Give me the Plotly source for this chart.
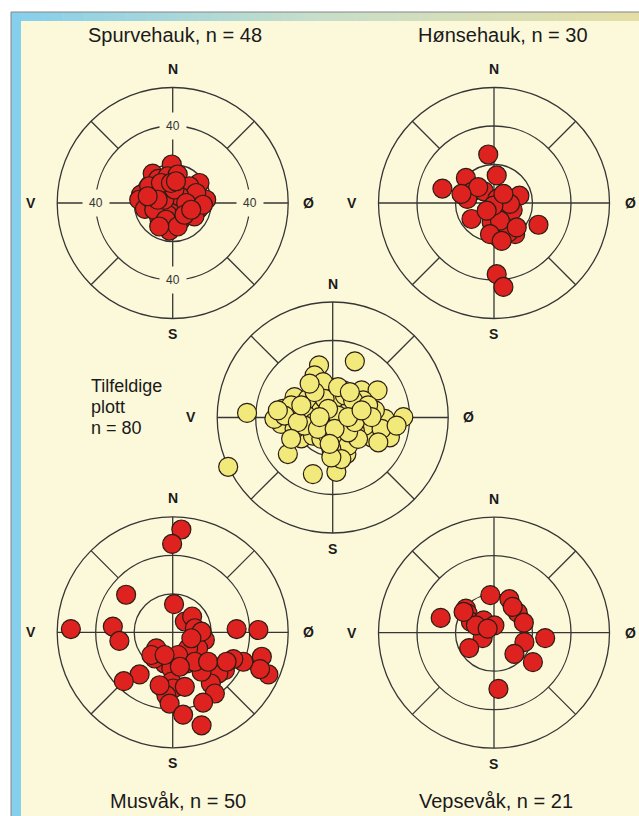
import plotly.graph_objects as go

# ---------------------------------------------------------------------------
# Nest positions relative to the centre, in metres (east, north).
# ---------------------------------------------------------------------------
spurvehauk_east = [-0.5, -10.4, -7.5, -2.6, 2.6, -16.5, -17.4, -10.4, -14.4, 13.9,
                   17.4, 13.4, 8.7, -1.2, -1.7, -7.0, 4.3, 7.8, 4.3, -5.2,
                   -0.9, 2.6, -4.3, -7.8, 10.4, 6.1, 0.9, -2.6, -12.2, 8.7,
                   12.2, -9.6, 3.5, -4.3, 0.9, -6.1, -0.9, 7.0, -7.8, -3.5,
                   2.6, 11.3, -13.0, 15.7, 1.7, -7.0, 6.1, 9.6]
spurvehauk_north = [20.0, 15.3, 12.5, 13.9, 14.8, 4.3, 1.7, 0.9, -3.1, 10.4,
                    1.7, -3.1, -6.1, -10.1, -14.3, -7.8, -8.7, 5.2, 7.8, 6.1,
                    1.7, -0.9, -2.6, 7.0, 0.9, -2.6, -5.2, -6.1, 8.7, 8.7,
                    5.2, -3.5, 3.5, 1.7, 7.0, 10.4, 10.4, 0.0, 1.7, -8.7,
                    -12.2, -7.0, 3.5, -0.9, 11.3, -12.2, -6.1, -3.5]

honsehauk_east = [-3.0, 1.4, -14.6, -26.8, -11.7, -13.9, -5.2, 1.7, 13.2, 9.7,
                  -11.7, 0.5, 23.1, 1.0, 11.0, 2.3, 7.5, 1.4, 4.9, -1.2,
                  3.1, 11.8, -2.1, 4.0, 8.3, -8.2, -16.9, -0.3, 4.9, -3.8]
honsehauk_north = [25.2, 14.3, 13.0, 7.5, 5.6, 2.1, 6.1, 2.1, 3.8, -3.7,
                   -8.3, -5.7, -11.3, -13.0, -16.2, -17.9, -15.3, -37.0, -43.6, -10.1,
                   -9.2, -12.7, -16.2, -19.7, -0.5, 8.2, 4.7, -1.4, 4.7, -4.0]

tilfeldige_east = [-54.3, -44.5, -7.1, 11.5, -19.8, -25.9, -26.8, -30.3, -9.4, 0.2,
                   -9.4, -5.0, 15.0, 23.3, 27.1, 36.7, 29.7, 20.2, 1.9, 7.1,
                   -0.7, -16.3, -10.3, -23.3, -10.3, 1.9, 4.5, 7.1, 13.2, 15.8,
                   -12.9, -18.1, -5.9, -3.3, 9.7, 16.7, 21.9, 11.5, -19.8, -13.7,
                   -9.4, -21.6, 4.5, 1.0, 6.3, 10.6, 18.4, 25.4, 33.2, 4.5,
                   8.0, -0.7, -5.9, -2.4, -14.6, -25.0, -4.2, -9.4, -12.0, 2.8,
                   13.2, 23.7, -2.4, 8.0, -18.1, -7.7, 1.0, 11.5, 4.5, -0.7,
                   20.2, -16.3, -28.5, -21.6, 8.0, 15.0, -6.8, 2.8, 8.9, -1.6]
tilfeldige_north = [-25.6, 2.4, 27.1, 29.2, 10.6, 4.5, -3.3, -0.7, 6.3, 15.0,
                    21.9, 18.4, 14.1, 14.1, -0.7, 0.2, -10.3, -10.3, -13.7, -2.4,
                    -2.4, -10.8, -9.4, -19.0, -29.4, -28.2, -18.1, -19.0, 1.0, 8.9,
                    9.7, 1.9, 3.7, -5.9, 3.7, -4.2, 3.7, -6.8, -5.9, 1.0,
                    -2.4, 6.3, 5.4, 9.7, 11.5, 8.9, 6.3, -5.9, -4.2, -11.1,
                    -14.6, -16.3, -11.1, -9.4, -4.2, 1.0, 9.7, 13.2, 17.6, 1.0,
                    -11.1, -12.9, 4.5, -7.7, -2.4, -5.9, -5.9, -2.4, -21.6, -20.7,
                    0.2, 6.3, 3.7, -11.1, 0.2, 3.7, 0.2, 15.8, 13.2, -13.7]

musvak_east = [4.5, -0.3, -24.2, -52.9, -31.1, -27.7, 0.7, 6.3, 10.1, 11.5,
               16.7, 33.2, 44.5, 46.3, 49.7, 45.4, 36.7, 31.5, 27.1, 23.7,
               19.8, 21.9, 15.0, 13.2, 8.0, 7.1, -8.5, -4.2, -0.7, -0.7,
               0.2, -3.3, 6.3, -1.6, 5.4, 15.0, 15.8, -17.2, -25.4, -9.4,
               2.8, 11.5, -6.8, -11.1, 15.0, 9.7, 3.7, 18.4, -4.2, 28.0]
musvak_north = [53.4, 45.9, 19.5, 1.7, 3.0, -4.5, 14.6, 5.6, 8.2, 2.1,
                -4.0, 1.7, 1.2, -12.7, -21.9, -19.1, -15.3, -13.9, -19.7, -21.4,
                -26.6, -31.8, -20.5, -8.3, -8.3, -16.2, -8.3, -16.2, -18.8, -25.7,
                -29.2, -32.7, -28.3, -37.0, -42.8, -48.3, -36.5, -21.9, -25.4, -13.6,
                -11.8, -15.3, -27.5, -11.8, 0.3, -3.1, -17.9, -15.3, -11.8, -15.3]

vepsevak_east = [-1.9, 8.0, -27.7, -14.6, -13.7, -12.0, -5.4, 0.2, -5.9, -12.9,
                 12.3, 15.5, 15.8, 10.6, 20.2, 26.6, 2.3, -9.4, 9.7, -3.3, -15.8]
vepsevak_north = [19.5, 17.4, 7.7, 12.5, 9.9, 5.6, 6.4, 3.8, -2.8, -8.0,
                  10.4, 5.2, -4.9, -11.0, -15.3, -2.8, -29.2, 3.8, 13.4, 2.1, 10.8]

ring_radii = [20, 40, 60]
ring_tick_labels = ["40", "40", "40", "40"]
compass_labels = ["N", "S", "V", "Ø"]

# ---------------------------------------------------------------------------
# Page geometry and styling
# ---------------------------------------------------------------------------
W, H = 639, 816
CREAM = "#FCF8DA"
RED = "#DD2220"
YELLOW = "#F1E97A"
EDGE = "#2b1d14"
GRID = "#363636"
FONT = "Liberation Sans, Arial, Helvetica, sans-serif"

R_PX = 115.5           # outer ring radius in pixels
OUTER = 60.0           # outer ring in metres
SCALE = R_PX / OUTER   # pixels per metre
HALF = 64.0            # half-width of each axis range (metres)


def px_x(x):
    return x / W


def px_y(y):
    return 1 - y / H


panels = [
    dict(title="Spurvehauk, n = 48", center=(172.7, 203.0), title_pos=(175, 35.5),
         east=spurvehauk_east, north=spurvehauk_north, fill=RED, ring_labels=True),
    dict(title="Hønsehauk, n = 30", center=(494.0, 203.0), title_pos=(503, 35.5),
         east=honsehauk_east, north=honsehauk_north, fill=RED, ring_labels=False),
    dict(title=None, center=(332.7, 417.5), title_pos=None,
         east=tilfeldige_east, north=tilfeldige_north, fill=YELLOW, ring_labels=False),
    dict(title="Musvåk, n = 50", center=(172.7, 632.3), title_pos=(178, 800.5),
         east=musvak_east, north=musvak_north, fill=RED, ring_labels=False),
    dict(title="Vepsevåk, n = 21", center=(494.0, 632.7), title_pos=(496, 800.5),
         east=vepsevak_east, north=vepsevak_north, fill=RED, ring_labels=False),
]

fig = go.Figure()
shapes = []
annotations = []

# Page background: white margin, grey rule, blue side strip, gradient top strip
shapes.append(dict(type="rect", xref="paper", yref="paper", layer="below",
                   x0=px_x(21), x1=1, y0=0, y1=px_y(21),
                   fillcolor=CREAM, line=dict(width=0)))
shapes.append(dict(type="rect", xref="paper", yref="paper", layer="below",
                   x0=px_x(11), x1=px_x(21), y0=0, y1=px_y(12),
                   fillcolor="#86CFEC", line=dict(width=0)))
stops = [(0.0, (134, 207, 236)), (0.5, (200, 222, 200)), (1.0, (228, 222, 166))]


def grad(t):
    for (t0, c0), (t1, c1) in zip(stops[:-1], stops[1:]):
        if t0 <= t <= t1:
            f = (t - t0) / (t1 - t0)
            return "rgb(%d,%d,%d)" % tuple(round(a + (b - a) * f) for a, b in zip(c0, c1))
    return "rgb(%d,%d,%d)" % stops[-1][1]


n_seg = 60
x_start, x_end = 11, 639
for i in range(n_seg):
    xa = x_start + (x_end - x_start) * i / n_seg
    xb = x_start + (x_end - x_start) * (i + 1) / n_seg + 0.5
    shapes.append(dict(type="rect", xref="paper", yref="paper", layer="below",
                       x0=px_x(xa), x1=px_x(min(xb, W)), y0=px_y(21), y1=px_y(12),
                       fillcolor=grad(i / (n_seg - 1)), line=dict(width=0)))
shapes.append(dict(type="line", xref="paper", yref="paper", layer="below",
                   x0=px_x(11), x1=1, y0=px_y(12), y1=px_y(12),
                   line=dict(color="#858585", width=1)))
shapes.append(dict(type="line", xref="paper", yref="paper", layer="below",
                   x0=px_x(11), x1=px_x(11), y0=0, y1=px_y(12),
                   line=dict(color="#858585", width=1)))

layout_axes = {}
diag = 0.70710678

for i, p in enumerate(panels, start=1):
    xname = "x" if i == 1 else f"x{i}"
    yname = "y" if i == 1 else f"y{i}"
    cx, cy = p["center"]
    half_px = HALF * SCALE
    layout_axes["xaxis" if i == 1 else f"xaxis{i}"] = dict(
        domain=[px_x(cx - half_px), px_x(cx + half_px)],
        range=[-HALF, HALF], visible=False, fixedrange=True, anchor=yname)
    layout_axes["yaxis" if i == 1 else f"yaxis{i}"] = dict(
        domain=[px_y(cy + half_px), px_y(cy - half_px)],
        range=[-HALF, HALF], visible=False, fixedrange=True, anchor=xname)

    line_style = dict(color=GRID, width=1.3)
    for r in ring_radii:
        shapes.append(dict(type="circle", xref=xname, yref=yname, layer="below",
                           x0=-r, x1=r, y0=-r, y1=r, line=line_style))
    shapes.append(dict(type="line", xref=xname, yref=yname, layer="below",
                       x0=-OUTER, x1=OUTER, y0=0, y1=0, line=line_style))
    shapes.append(dict(type="line", xref=xname, yref=yname, layer="below",
                       x0=0, x1=0, y0=-OUTER, y1=OUTER, line=line_style))
    for sx in (-1, 1):
        for sy in (-1, 1):
            shapes.append(dict(type="line", xref=xname, yref=yname, layer="below",
                               x0=sx * 40 * diag, y0=sy * 40 * diag,
                               x1=sx * 60 * diag, y1=sy * 60 * diag,
                               line=line_style))

    fig.add_trace(go.Scatter(
        x=p["east"], y=p["north"], mode="markers", xaxis=xname, yaxis=yname,
        cliponaxis=False, showlegend=False, hoverinfo="skip",
        marker=dict(size=19, color=p["fill"], line=dict(color=EDGE, width=1.2)),
    ))

    if p["ring_labels"]:
        for (lx, ly), txt in zip([(0, 40), (0, -40), (-40, 0), (40, 0)], ring_tick_labels):
            annotations.append(dict(
                x=lx, y=ly, xref=xname, yref=yname, text=txt, showarrow=False,
                font=dict(family=FONT, size=12, color="#333333"),
                bgcolor=CREAM, borderpad=6, xanchor="center", yanchor="middle"))

    offsets = [(0, -134), (0, 131), (-142, 0), (136, 0)]
    for (ox, oy), txt in zip(offsets, compass_labels):
        annotations.append(dict(
            x=px_x(cx + ox), y=px_y(cy + oy), xref="paper", yref="paper",
            text=f"<b>{txt}</b>", showarrow=False,
            font=dict(family=FONT, size=14, color="#1a1a1a"),
            xanchor="center", yanchor="middle"))

    if p["title"]:
        tx, ty = p["title_pos"]
        annotations.append(dict(
            x=px_x(tx), y=px_y(ty), xref="paper", yref="paper", text=p["title"],
            showarrow=False, font=dict(family=FONT, size=20, color="#1a1a1a"),
            xanchor="center", yanchor="middle"))

for txt, yy in zip(["Tilfeldige", "plott", "n = 80"], [385.5, 406.5, 428.0]):
    annotations.append(dict(
        x=px_x(89), y=px_y(yy), xref="paper", yref="paper", text=txt,
        showarrow=False, font=dict(family=FONT, size=18, color="#1a1a1a"),
        xanchor="left", yanchor="middle"))

fig.update_layout(
    width=W, height=H, autosize=False,
    margin=dict(l=0, r=0, t=0, b=0, pad=0),
    paper_bgcolor="white", plot_bgcolor="rgba(0,0,0,0)",
    shapes=shapes, annotations=annotations, showlegend=False,
    **layout_axes,
)

fig.write_html("out.html", config={"displayModeBar": False})
